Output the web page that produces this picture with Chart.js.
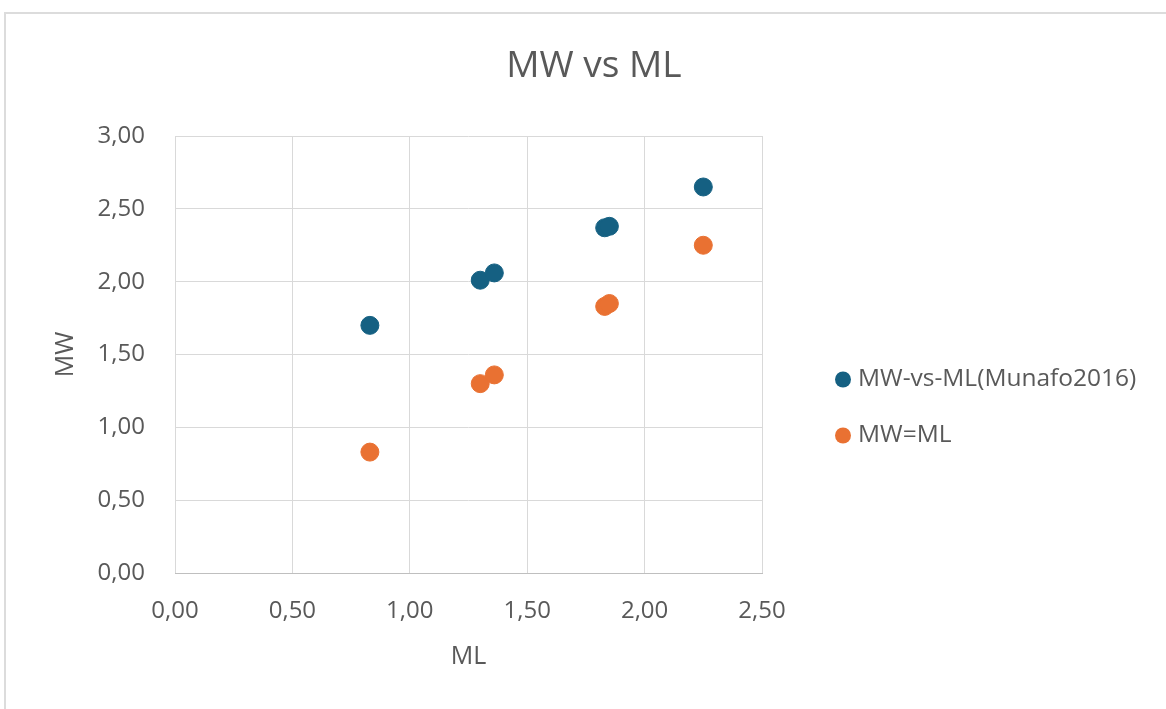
<!DOCTYPE html>
<html>
<head>
<meta charset="utf-8">
<script src="https://cdn.jsdelivr.net/npm/chart.js@4.4.1/dist/chart.umd.min.js"></script>
<style>
    html, body { margin: 0; padding: 0; background: #fff; }
    #wrap { position: relative; width: 1166px; height: 709px; }
    #frame {
        position: absolute; left: 4px; top: 12px; right: 0; bottom: 0;
        border-top: 2px solid #dcdcdc; border-left: 2px solid #dcdcdc;
        pointer-events: none;
    }
</style>
</head>
<body>
<div id="wrap">
    <canvas id="scatterChart" width="1166" height="709"></canvas>
    <div id="frame"></div>
</div>
<script>
// ML values (x) of the data points
const mlValues = [0.83, 1.30, 1.36, 1.83, 1.85, 2.25];
// MW values from Munafo 2016
const mwMunafo = [1.70, 2.01, 2.06, 2.37, 2.38, 2.65];
// reference line MW = ML
const mwEqualMl = [0.83, 1.30, 1.36, 1.83, 1.85, 2.25];

const seriesNames = ['MW-vs-ML(Munafo2016)', 'MW=ML'];
const xTicks = [0, 0.5, 1, 1.5, 2, 2.5];
const yTicks = [0, 0.5, 1, 1.5, 2, 2.5, 3];

const FONT = '"Open Sans", "Liberation Sans", sans-serif';
const TXT = '#595959';

const toPoints = (xs, ys) => xs.map((x, i) => ({ x: x, y: ys[i] }));
const fmt = v => v.toFixed(2).replace('.', ',');

// title + legend drawn like the Excel original (title centred on the whole chart, legend at right)
const excelDecor = {
    id: 'excelDecor',
    afterDraw(chart) {
        const ctx = chart.ctx;
        ctx.save();
        ctx.font = '37px ' + FONT;
        ctx.fillStyle = TXT;
        ctx.textAlign = 'center';
        ctx.textBaseline = 'middle';
        ctx.fillText('MW vs ML', 594, 66);

        const x0 = chart.chartArea.right + 81;
        const yMid = (chart.chartArea.top + chart.chartArea.bottom) / 2 + 53;
        const gap = 56;
        chart.data.datasets.forEach((ds, i) => {
            const y = yMid - gap / 2 + i * gap;
            ctx.beginPath();
            ctx.arc(x0, y, 8, 0, Math.PI * 2);
            ctx.fillStyle = ds.backgroundColor;
            ctx.fill();
            ctx.font = '24.5px ' + FONT;
            ctx.fillStyle = TXT;
            ctx.textAlign = 'left';
            ctx.fillText(ds.label, x0 + 15, y);
        });
        ctx.restore();
    }
};

const ctx = document.getElementById('scatterChart');
new Chart(ctx, {
    type: 'scatter',
    data: {
        datasets: [{
            label: seriesNames[0],
            data: toPoints(mlValues, mwMunafo),
            backgroundColor: '#156082',
            borderColor: '#156082',
            pointRadius: 9,
            pointHoverRadius: 9
        }, {
            label: seriesNames[1],
            data: toPoints(mlValues, mwEqualMl),
            backgroundColor: '#E97132',
            borderColor: '#E97132',
            pointRadius: 9,
            pointHoverRadius: 9
        }]
    },
    options: {
        responsive: false,
        animation: false,
        layout: { padding: { left: 5, right: 404, top: 136, bottom: 30 } },
        plugins: {
            legend: { display: false },
            tooltip: { enabled: false },
            title: { display: false }
        },
        scales: {
            x: {
                type: 'linear',
                min: 0,
                max: 2.5,
                afterBuildTicks: s => { s.ticks = xTicks.map(v => ({ value: v })); },
                afterFit: s => { s.height = 106; },
                ticks: {
                    color: TXT,
                    font: { family: FONT, size: 24 },
                    padding: 24,
                    callback: v => fmt(v)
                },
                grid: { color: '#d9d9d9', drawTicks: false },
                border: { color: '#bfbfbf' },
                title: {
                    display: true,
                    text: 'ML',
                    color: TXT,
                    font: { family: FONT, size: 25 },
                    padding: { top: 7, bottom: 7 }
                }
            },
            y: {
                type: 'linear',
                min: 0,
                max: 3,
                afterBuildTicks: s => { s.ticks = yTicks.map(v => ({ value: v })); },
                afterFit: s => { s.width = 170; },
                ticks: {
                    color: TXT,
                    font: { family: FONT, size: 24 },
                    padding: 30,
                    callback: v => fmt(v)
                },
                grid: { color: '#d9d9d9', drawTicks: false },
                border: { display: false },
                title: {
                    display: true,
                    text: 'MW',
                    color: TXT,
                    font: { family: FONT, size: 25 },
                    padding: { top: 46, bottom: 0 }
                }
            }
        }
    },
    plugins: [excelDecor]
});
</script>
</body>
</html>
